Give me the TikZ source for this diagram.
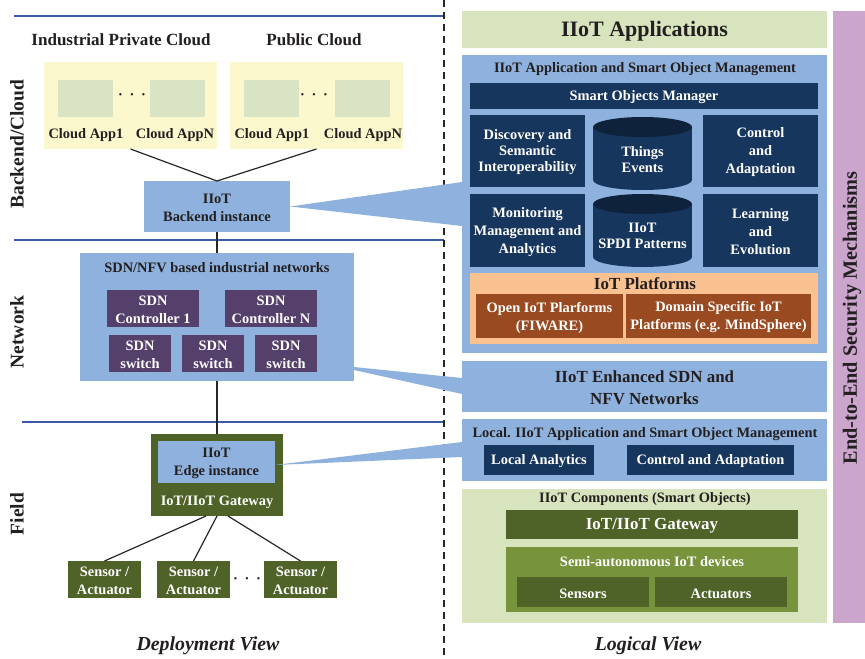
\documentclass[tikz,border=0pt]{standalone}
\usepackage{fontspec}
\setmainfont{Liberation Serif}
\definecolor{lineblue}{RGB}{59,89,165}
\definecolor{boxblue}{RGB}{142,178,221}
\definecolor{navy}{RGB}{23,54,93}
\definecolor{navytop}{RGB}{14,34,60}
\definecolor{sdnpurple}{RGB}{84,64,106}
\definecolor{dgreen}{RGB}{79,98,40}
\definecolor{mgreen}{RGB}{119,147,60}
\definecolor{lgreen}{RGB}{215,228,189}
\definecolor{cyellow}{RGB}{250,248,204}
\definecolor{cgreen}{RGB}{216,228,196}
\definecolor{peach}{RGB}{250,193,144}
\definecolor{rust}{RGB}{154,74,32}
\definecolor{lilac}{RGB}{204,165,205}
\definecolor{tdark}{RGB}{35,31,32}
\newcommand{\txtbody}{\fontsize{10.8}{13.5}\selectfont\bfseries}
\newcommand{\txtmid}{\fontsize{12.7}{16.5}\selectfont\bfseries}
\newcommand{\txtbig}{\fontsize{16.5}{20}\selectfont\bfseries}
\newcommand{\txtlab}{\fontsize{14.6}{17}\selectfont\bfseries}
\newcommand{\txtview}{\fontsize{14.9}{17}\selectfont\bfseries\itshape}
\tikzset{
  bx/.style={inner sep=0pt, outer sep=0pt, align=center, text=tdark, font=\txtbody},
  wt/.style={text=white},
  lbl/.style={inner sep=0pt, outer sep=0pt, align=center, text=tdark, font=\txtbody},
  sepline/.style={draw=lineblue, line width=1.6pt},
  conn/.style={draw=black!85, line width=0.9pt},
  callout/.style={fill=boxblue, draw=none},
}
% \rbox{name}{x1}{y1}{x2}{y2}{options}{text}  (pixel coordinates)
\newcommand{\rbox}[7]{%
  \pgfmathsetmacro{\rbcx}{(#2+#4)/2}%
  \pgfmathsetmacro{\rbcy}{(#3+#5)/2}%
  \pgfmathsetmacro{\rbw}{(#4-#2)*0.75}%
  \pgfmathsetmacro{\rbh}{(#5-#3)*0.75}%
  \node[bx, minimum width=\rbw pt, minimum height=\rbh pt, #6] (#1) at (\rbcx,\rbcy) {};
  \node[bx, #6, fill=none, yshift=-1.1pt] at (#1.center) {#7};}
\begin{document}
\begin{tikzpicture}[x=0.75pt, y=-0.75pt]
\useasboundingbox (0,0) rectangle (865,658);

% separators
\draw[sepline] (14,16) -- (444,16);
\draw[sepline] (14,240) -- (444,240);
\draw[sepline] (22,422) -- (444,422);
\draw[black!85, line width=0.9pt, dash pattern=on 5.5pt off 3.5pt] (444,0) -- (444,658);

% layer labels
\node[lbl, font=\txtlab, rotate=90] (lbackend) at (17,144) {Backend/Cloud};
\node[lbl, font=\txtlab, rotate=90] (lnetwork) at (17,332) {Network};
\node[lbl, font=\txtlab, rotate=90] (lfield) at (17,514) {Field};

% right column boxes
\rbox{apps}{462}{11}{827}{48}{fill=lgreen, font=\txtbig}{IIoT Applications}
\rbox{bigapp}{462}{55}{827}{353}{fill=boxblue}{}
\rbox{enh}{462}{361}{827}{412}{fill=boxblue, font=\txtmid}{IIoT Enhanced SDN and\\NFV Networks}
\rbox{local}{462}{419}{827}{481}{fill=boxblue}{}

% left boxes with callouts
\rbox{backend}{144}{181}{290}{232}{fill=boxblue}{IIoT\\Backend instance}
\rbox{sdn}{80}{253}{354}{381}{fill=boxblue}{}
\rbox{gw}{151}{434}{283}{516}{fill=dgreen}{}
\rbox{edge}{158}{441}{275}{483}{fill=boxblue}{IIoT\\Edge instance}
\fill[callout] (backend.east) -- (bigapp.west |- 0,182) -- (bigapp.west |- 0,226) -- cycle;
\fill[callout] (sdn.east |- 0,367) -- (enh.west |- 0,378) -- (enh.west |- 0,394) -- (sdn.east |- 0,370) -- cycle;
\fill[callout] (edge.east |- 0,465) -- (local.west |- 0,442) -- (local.west |- 0,457) -- cycle;

% ---------------- deployment view ----------------
\node[lbl, font=\fontsize{12.8}{15}\selectfont\bfseries] (tpriv) at (121,40) {Industrial Private Cloud};
\node[lbl, font=\fontsize{12.8}{15}\selectfont\bfseries] (tpub) at (314,40) {Public Cloud};

\rbox{priv}{44}{62}{217}{149}{fill=cyellow}{}
\rbox{pub}{230}{62}{403}{149}{fill=cyellow}{}
\rbox{priv1}{58}{80}{113}{117}{fill=cgreen}{}
\rbox{privN}{150}{80}{205}{117}{fill=cgreen}{}
\rbox{pub1}{244}{80}{299}{117}{fill=cgreen}{}
\rbox{pubN}{335}{80}{390}{117}{fill=cgreen}{}
\node[lbl] (dots1) at (132,97) {·\hspace{5pt}·\hspace{5pt}·};
\node[lbl] (dots2) at (314,97) {·\hspace{5pt}·\hspace{5pt}·};
\node[lbl] (lp1) at (86,135) {Cloud App1};
\node[lbl] (lpN) at (175,135) {Cloud AppN};
\node[lbl] (lq1) at (272,135) {Cloud App1};
\node[lbl] (lqN) at (363,135) {Cloud AppN};

\node[lbl] (sdnT) at (217,268) {SDN/NFV based industrial networks};
\rbox{c1}{107}{290}{199}{327}{wt, fill=sdnpurple}{SDN\\Controller 1}
\rbox{cN}{225}{290}{317}{327}{wt, fill=sdnpurple}{SDN\\Controller N}
\rbox{sw1}{109}{335}{171}{372}{wt, fill=sdnpurple}{SDN\\switch}
\rbox{sw2}{182}{335}{244}{372}{wt, fill=sdnpurple}{SDN\\switch}
\rbox{sw3}{255}{335}{317}{372}{wt, fill=sdnpurple}{SDN\\switch}

\node[lbl, text=white] (gwT) at (217,502) {IoT/IIoT Gateway};

\rbox{sa1}{68}{561}{141}{598}{wt, fill=dgreen}{Sensor /\\Actuator}
\rbox{sa2}{157}{561}{230}{598}{wt, fill=dgreen}{Sensor /\\Actuator}
\rbox{sa3}{264}{561}{337}{598}{wt, fill=dgreen}{Sensor /\\Actuator}
\node[lbl] (dots3) at (247,581) {·\hspace{5pt}·\hspace{5pt}·};

\draw[conn] (priv.south) -- (backend.north);
\draw[conn] (pub.south) -- (backend.north);
\draw[conn] (backend.south) -- (sdn.north);
\draw[conn] (sdn.south) -- (gw.north);
\draw[conn] ([xshift=-8.25pt]gw.south) -- (sa1.north);
\draw[conn] (gw.south) -- (sa2.north);
\draw[conn] ([xshift=8.25pt]gw.south) -- (sa3.north);

\node[lbl, font=\txtview] (dview) at (208,646) {Deployment View};

% ---------------- logical view ----------------
\node[lbl] (bigappT) at (645,69) {IIoT Application and Smart Object Management};
\rbox{som}{470}{83}{818}{109}{wt, fill=navy}{Smart Objects Manager}
\rbox{disc}{470}{115}{585}{187}{wt, fill=navy, font=\fontsize{10.8}{12}\selectfont\bfseries}{Discovery and\\Semantic\\Interoperability}
\rbox{ctrl}{703}{115}{818}{187}{wt, fill=navy}{Control\\and\\Adaptation}
\rbox{mon}{470}{194}{585}{267}{wt, fill=navy}{Monitoring\\Management and\\Analytics}
\rbox{learn}{703}{194}{818}{267}{wt, fill=navy}{Learning\\and\\Evolution}

% cylinders
\fill[navy] (593,127) rectangle (692,180);
\fill[navy] (642.5,180) ellipse[x radius=37.125pt, y radius=7.5pt];
\fill[navytop] (642.5,127) ellipse[x radius=37.125pt, y radius=7.5pt];
\node[lbl, text=white, font=\fontsize{10.8}{11.5}\selectfont\bfseries] (cyl1) at (642.5,159.5) {Things\\Events};
\fill[navy] (593,204) rectangle (692,257);
\fill[navy] (642.5,257) ellipse[x radius=37.125pt, y radius=7.5pt];
\fill[navytop] (642.5,204) ellipse[x radius=37.125pt, y radius=7.5pt];
\node[lbl, text=white, font=\fontsize{10.8}{11.5}\selectfont\bfseries] (cyl2) at (642.5,236) {IIoT\\SPDI Patterns};

\rbox{plat}{470}{273}{818}{344}{fill=peach}{}
\node[lbl, font=\txtmid] (platT) at (645,284) {IoT Platforms};
\rbox{open}{476}{294}{623}{338}{wt, fill=rust}{Open IoT Plarforms\\(FIWARE)}
\rbox{dom}{626}{294}{811}{338}{wt, fill=rust}{Domain Specific IoT\\Platforms (e.g. MindSphere)}

\node[lbl] (localT) at (645,434) {Local. IIoT Application and Smart Object Management};
\rbox{la}{484}{445}{594}{475}{wt, fill=navy}{Local Analytics}
\rbox{lca}{627}{445}{794}{475}{wt, fill=navy}{Control and Adaptation}

\rbox{comp}{462}{489}{827}{623}{fill=lgreen}{}
\node[lbl] (compT) at (645,499) {IIoT Components (Smart Objects)};
\rbox{gwr}{506}{510}{798}{539}{wt, fill=dgreen, font=\txtmid}{IoT/IIoT Gateway}
\rbox{semi}{506}{547}{798}{612}{fill=mgreen}{}
\node[lbl, text=white] (semiT) at (652,562) {Semi-autonomous IoT devices};
\rbox{sens}{517}{577}{649}{607}{wt, fill=dgreen}{Sensors}
\rbox{act}{655}{577}{787}{607}{wt, fill=dgreen}{Actuators}

\node[lbl, font=\txtview] (lview) at (648,646) {Logical View};

% security sidebar
\rbox{sec}{833}{11}{865}{623}{fill=lilac}{}
\node[lbl, font=\fontsize{15.2}{18}\selectfont\bfseries, rotate=90] (secT) at (852,318) {End-to-End Security Mechanisms};
\end{tikzpicture}
\end{document}
